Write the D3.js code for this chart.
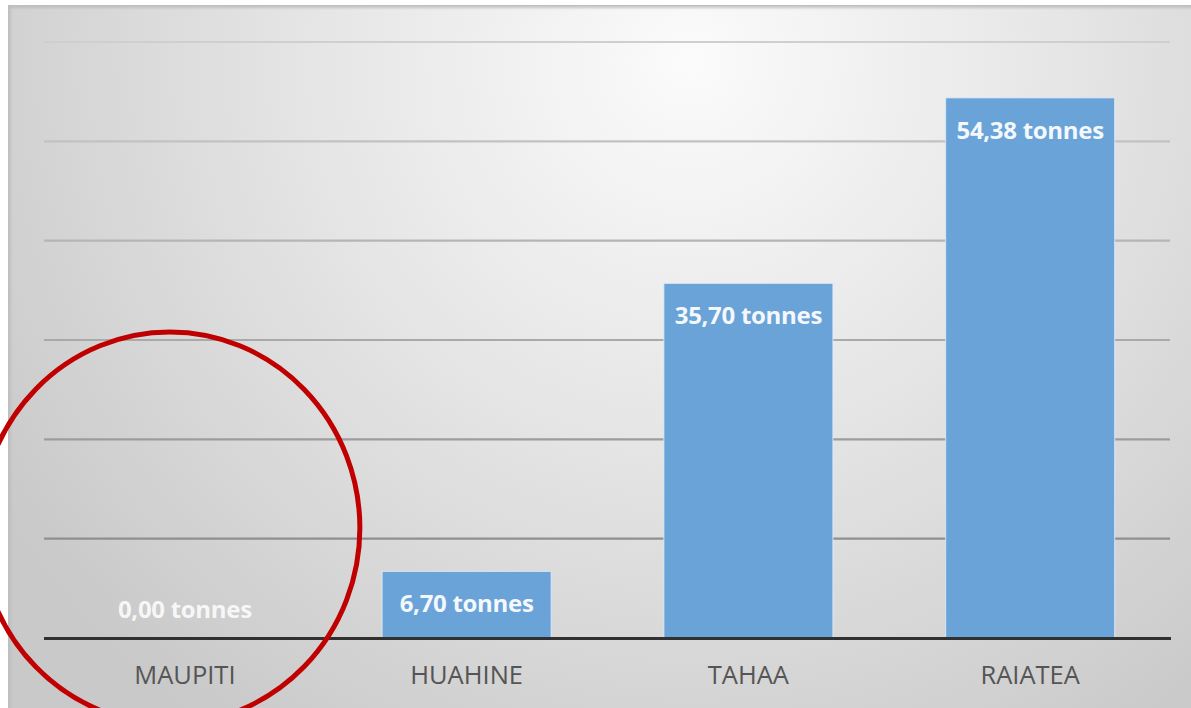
<!DOCTYPE html>
<html>
<head>
<meta charset="utf-8">
<script src="https://cdn.jsdelivr.net/npm/d3@7"></script>
<style>
  html, body { margin: 0; padding: 0; background: #ffffff; }
  svg { display: block; }
</style>
</head>
<body>
<svg id="chart" width="1191" height="708"></svg>
<script>
// ---- data ----
const categories = ["MAUPITI", "HUAHINE", "TAHAA", "RAIATEA"];
const values = [0.00, 6.70, 35.70, 54.38];
const yTicks = [0, 10, 20, 30, 40, 50, 60];
const unitLabel = "tonnes";

// ---- layout ----
const W = 1191, H = 708;
const plot = { left: 44, right: 1171, top: 42, bottom: 638 };

const svg = d3.select("#chart");
const defs = svg.append("defs");

// background gradient
const rg = defs.append("radialGradient")
  .attr("id", "bg")
  .attr("gradientUnits", "userSpaceOnUse")
  .attr("cx", 690).attr("cy", 60).attr("r", 820)
  .attr("fx", 690).attr("fy", 60);
rg.append("stop").attr("offset", "0%").attr("stop-color", "#fbfbfb");
rg.append("stop").attr("offset", "45%").attr("stop-color", "#e6e6e6");
rg.append("stop").attr("offset", "100%").attr("stop-color", "#c9c9c9");

const shadow = defs.append("linearGradient")
  .attr("id", "topShadow").attr("x1", 0).attr("y1", 0).attr("x2", 0).attr("y2", 1);
shadow.append("stop").attr("offset", "0%").attr("stop-color", "#b8b8b8");
shadow.append("stop").attr("offset", "100%").attr("stop-color", "#b8b8b8").attr("stop-opacity", 0);

const leftShadow = defs.append("linearGradient")
  .attr("id", "leftShadow").attr("x1", 0).attr("y1", 0).attr("x2", 1).attr("y2", 0);
leftShadow.append("stop").attr("offset", "0%").attr("stop-color", "#bdbdbd");
leftShadow.append("stop").attr("offset", "100%").attr("stop-color", "#bdbdbd").attr("stop-opacity", 0);

svg.append("rect").attr("x", 8).attr("y", 6).attr("width", W - 8).attr("height", H - 6)
  .attr("fill", "url(#bg)");
svg.append("rect").attr("x", 8).attr("y", 5).attr("width", W - 8).attr("height", 5)
  .attr("fill", "url(#topShadow)");
svg.append("rect").attr("x", 8).attr("y", 6).attr("width", 5).attr("height", H - 6)
  .attr("fill", "url(#leftShadow)");

// ---- scales ----
const x = d3.scaleBand()
  .domain(categories)
  .range([plot.left, plot.right])
  .paddingInner(0.4)
  .paddingOuter(0.2);

const y = d3.scaleLinear()
  .domain([0, 60])
  .range([plot.bottom, plot.top]);

const gridColor = d3.scaleLinear()
  .domain([60, 10])
  .range(["#cfcfcf", "#8f8f8f"]);

// ---- gridlines ----
svg.append("g").selectAll("line")
  .data(yTicks.filter(t => t > 0))
  .join("line")
  .attr("x1", plot.left).attr("x2", plot.right - 1)
  .attr("y1", d => y(d)).attr("y2", d => y(d))
  .attr("stroke", d => gridColor(d))
  .attr("stroke-width", 2.2);

// ---- bars ----
svg.append("g").selectAll("rect")
  .data(values)
  .join("rect")
  .attr("x", (d, i) => x(categories[i]))
  .attr("width", x.bandwidth())
  .attr("y", d => y(d))
  .attr("height", d => y(0) - y(d))
  .attr("fill", "#6aa3d7")
  .attr("stroke", "rgba(225,238,250,0.7)")
  .attr("stroke-width", d => d > 0 ? 1.2 : 0);

// ---- baseline axis ----
svg.append("line")
  .attr("x1", plot.left).attr("x2", plot.right)
  .attr("y1", y(0) + 0.5).attr("y2", y(0) + 0.5)
  .attr("stroke", "#303030")
  .attr("stroke-width", 3);

// ---- value labels ----
const fmt = v => d3.format(".2f")(v).replace(".", ",") + " " + unitLabel;
svg.append("g").selectAll("text")
  .data(values)
  .join("text")
  .attr("x", (d, i) => x(categories[i]) + x.bandwidth() / 2)
  .attr("y", d => Math.min(y(d) + 41, y(0) - 20))
  .attr("text-anchor", "middle")
  .attr("font-family", "'Open Sans', sans-serif")
  .attr("font-weight", 700)
  .attr("font-size", 24)
  .attr("letter-spacing", -0.3)
  .attr("fill", d => d > 0 ? "#f4f8fc" : "rgba(255,255,255,0.85)")
  .text(d => fmt(d));

// ---- category labels ----
svg.append("g").selectAll("text")
  .data(categories)
  .join("text")
  .attr("x", d => x(d) + x.bandwidth() / 2)
  .attr("y", y(0) + 46)
  .attr("text-anchor", "middle")
  .attr("font-family", "'Open Sans', sans-serif")
  .attr("font-size", 25.5)
  .attr("fill", "#555555")
  .text(d => d);

// ---- red annotation circle ----
svg.append("ellipse")
  .attr("cx", x(categories[0]) + x.bandwidth() / 2 - 15)
  .attr("cy", 528)
  .attr("rx", 190)
  .attr("ry", 196)
  .attr("fill", "none")
  .attr("stroke", "#c00000")
  .attr("stroke-width", 5);
</script>
</body>
</html>
